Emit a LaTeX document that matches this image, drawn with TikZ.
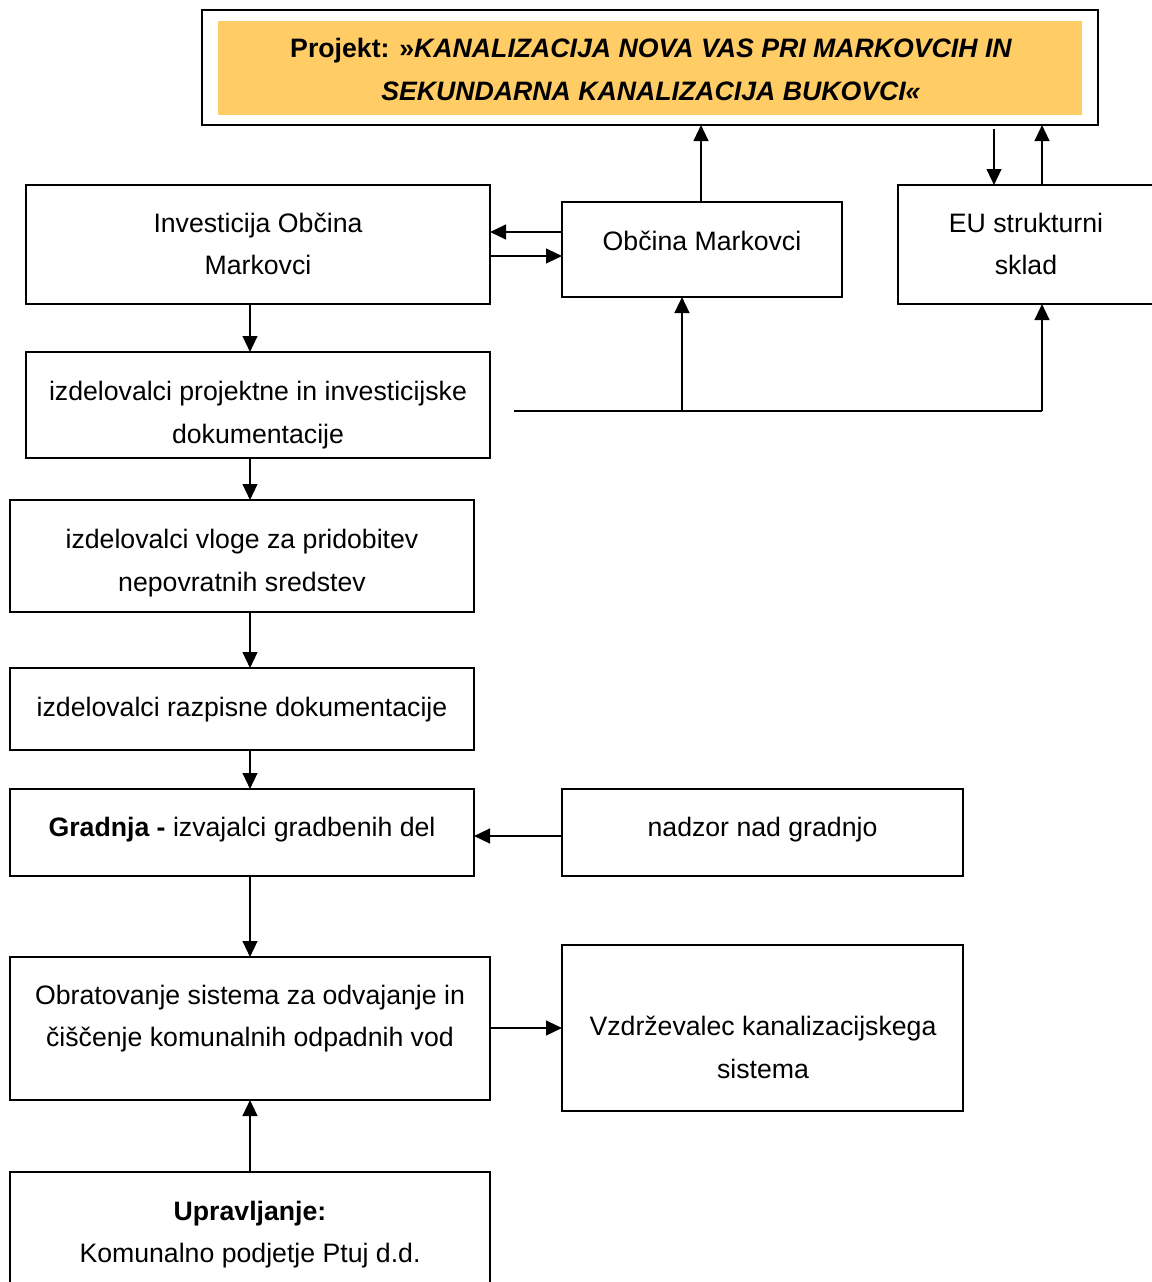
\documentclass[tikz,border=0pt]{standalone}
\usepackage{fontspec}
\setmainfont{Liberation Sans}
\usetikzlibrary{arrows.meta}
\definecolor{projorange}{HTML}{FFCC66}
\begin{document}
\begin{tikzpicture}[x=0.75pt,y=-0.75pt,
  box/.style={draw=black,line width=1.5pt,fill=white,inner sep=0pt,outer sep=0pt,rectangle},
  txt/.style={align=center,inner sep=0pt,font=\fontsize{20}{32}\selectfont},
  arr/.style={line width=1.7pt,-{Triangle[length=12pt,width=11pt]}},
  plain/.style={line width=1.7pt}]
\useasboundingbox (0,0) rectangle (1152,1282);
\clip (0,0) rectangle (1152,1282);
\fill[white] (0,0) rectangle (1152,1282);

% project box
\node[box,minimum width={896*0.75pt},minimum height={115*0.75pt}] (proj) at (650,67.5) {};
\node[fill=projorange,inner sep=0pt,minimum width={864*0.75pt},minimum height={94*0.75pt}] (projfill) at (650,68) {};
\node[txt] (projtxt) at (651,69.5) {\bfseries Projekt: »\itshape KANALIZACIJA NOVA VAS PRI MARKOVCIH IN\\\bfseries\itshape SEKUNDARNA KANALIZACIJA BUKOVCI«};

% boxes
\node[box,minimum width={464*0.75pt},minimum height={119*0.75pt}] (inv) at (258,244.5) {};
\node[txt] (invtxt) at (258,244) {Investicija Občina\\Markovci};

\node[box,minimum width={280*0.75pt},minimum height={95*0.75pt}] (obc) at (702,249.5) {};
\node[txt] (obctxt) at (702,241) {Občina Markovci};

\node[box,minimum width={256*0.75pt},minimum height={119*0.75pt}] (eu) at (1026,244.5) {};
\node[txt] (eutxt) at (1026,244) {EU strukturni\\sklad};

\node[box,minimum width={464*0.75pt},minimum height={106*0.75pt}] (izp) at (258,405) {};
\node[txt] (izptxt) at (258,415) {izdelovalci projektne in investicijske\\dokumentacije};

\node[box,minimum width={464*0.75pt},minimum height={112*0.75pt}] (vlo) at (242,556) {};
\node[txt] (vlotxt) at (242,563) {izdelovalci vloge za pridobitev\\nepovratnih sredstev};

\node[box,minimum width={464*0.75pt},minimum height={82*0.75pt}] (raz) at (242,709) {};
\node[txt] (raztxt) at (242,710) {izdelovalci razpisne dokumentacije};

\node[box,minimum width={464*0.75pt},minimum height={87*0.75pt}] (gra) at (242,832.5) {};
\node[txt] (gratxt) at (242,830) {\textbf{Gradnja -} izvajalci gradbenih del};

\node[box,minimum width={401*0.75pt},minimum height={87*0.75pt}] (nad) at (762.5,832.5) {};
\node[txt] (nadtxt) at (762.5,830) {nadzor nad gradnjo};

\node[box,minimum width={480*0.75pt},minimum height={143*0.75pt}] (obr) at (250,1028.5) {};
\node[txt] (obrtxt) at (250,1018.5) {Obratovanje sistema za odvajanje in\\čiščenje komunalnih odpadnih vod};

\node[box,minimum width={401*0.75pt},minimum height={166*0.75pt}] (vzd) at (762.5,1027.5) {};
\node[txt] (vzdtxt) at (763,1047.5) {Vzdrževalec kanalizacijskega\\sistema};

\node[box,minimum width={480*0.75pt},minimum height={130*0.75pt}] (upr) at (250,1237) {};
\node[txt] (uprtxt) at (250,1234.5) {\textbf{Upravljanje:}\\Komunalno podjetje Ptuj d.d.};

% connectors
\draw[arr] (obc.north -| 701,0) -- (proj.south -| 701,0);
\draw[arr] (obc.west |- 0,232) -- (inv.east |- 0,232);
\draw[arr] (inv.east |- 0,256) -- (obc.west |- 0,256);
\draw[arr,shorten <=3pt] (proj.south -| 994,0) -- (eu.north -| 994,0);
\draw[arr] (eu.north -| 1042,0) -- (proj.south -| 1042,0);

\draw[arr] (inv.south -| 250,0) -- (izp.north -| 250,0);
\draw[arr] (izp.south -| 250,0) -- (vlo.north -| 250,0);
\draw[arr] (vlo.south -| 250,0) -- (raz.north -| 250,0);
\draw[arr] (raz.south -| 250,0) -- (gra.north -| 250,0);
\draw[arr] (gra.south -| 250,0) -- (obr.north -| 250,0);
\draw[arr] (upr.north -| 250,0) -- (obr.south -| 250,0);
\draw[arr] (nad.west |- 0,836) -- (gra.east |- 0,836);
\draw[arr] (obr.east |- 0,1028) -- (vzd.west |- 0,1028);

\coordinate (ls) at (514,411);
\coordinate (lj) at (682,411);
\coordinate (le) at (1042,411);
\draw[plain] (ls) -- (le);
\draw[arr] (lj) -- (obc.south -| lj);
\draw[arr] (le) -- (eu.south -| le);
\end{tikzpicture}
\end{document}
